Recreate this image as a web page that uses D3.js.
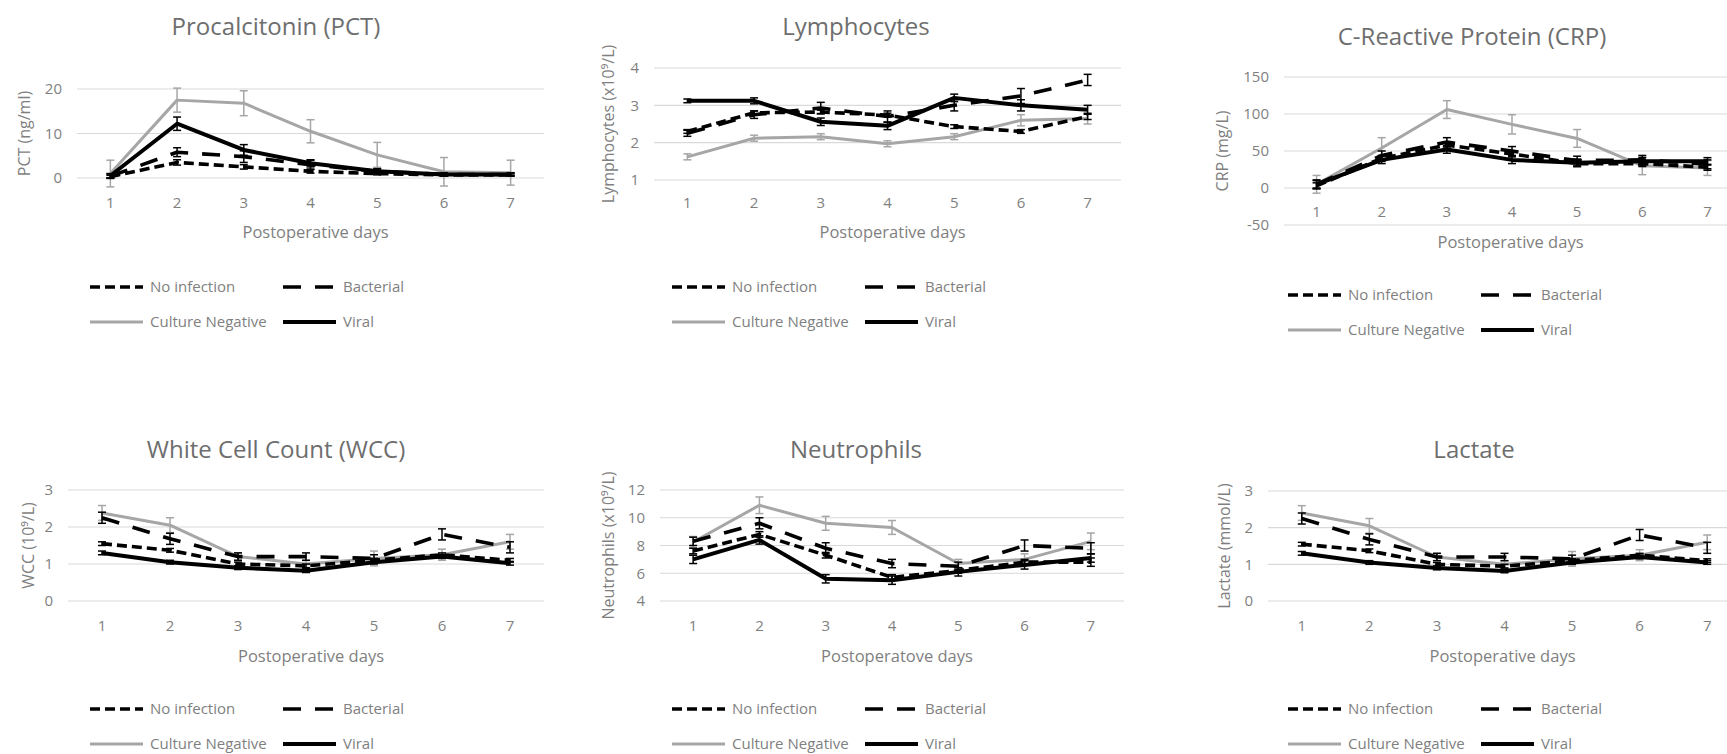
<!DOCTYPE html>
<html>
<head>
<meta charset="utf-8">
<script src="https://cdn.jsdelivr.net/npm/d3@7"></script>
<style>
  body { margin: 0; background: #fff; }
  text { font-family: "Open Sans", sans-serif; fill: #7f7f7f; }
</style>
</head>
<body>
<script>
let days = [1, 2, 3, 4, 5, 6, 7];
let seriesNames = ["No infection", "Bacterial", "Culture Negative", "Viral"];

// Procalcitonin
let pctNoInf = [0.3, 3.5, 2.5, 1.5, 1.0, 0.7, 0.7];
let pctBact = [0.4, 5.8, 4.8, 3.0, 1.5, 0.8, 0.8];
let pctCult = [1.0, 17.5, 16.8, 10.5, 5.2, 1.4, 1.2];
let pctViral = [0.5, 12.2, 6.3, 3.3, 1.5, 0.8, 0.8];
let pctNoInfErr = [0.3, 0.6, 0.5, 0.4, 0.3, 0.2, 0.2];
let pctBactErr = [0.5, 1.0, 1.3, 1.0, 0.6, 0.4, 0.4];
let pctCultErr = [3.0, 2.7, 2.8, 2.6, 2.8, 3.2, 2.8];
let pctViralErr = [0.5, 1.5, 1.2, 0.8, 0.5, 0.3, 0.3];

// Lymphocytes
let lymNoInf = [2.3, 2.8, 2.82, 2.74, 2.43, 2.3, 2.7];
let lymBact = [2.25, 2.75, 2.93, 2.7, 3.0, 3.25, 3.68];
let lymCult = [1.62, 2.12, 2.16, 1.97, 2.16, 2.6, 2.65];
let lymViral = [3.12, 3.12, 2.56, 2.45, 3.2, 3.0, 2.88];
let lymNoInfErr = [0.05, 0.05, 0.05, 0.05, 0.05, 0.05, 0.08];
let lymBactErr = [0.08, 0.1, 0.15, 0.15, 0.15, 0.2, 0.15];
let lymCultErr = [0.08, 0.08, 0.08, 0.08, 0.08, 0.15, 0.15];
let lymViralErr = [0.05, 0.08, 0.1, 0.1, 0.1, 0.15, 0.12];

// C-Reactive Protein
let crpNoInf = [3, 40, 58, 46, 33, 33, 28];
let crpBact = [5, 44, 62, 50, 37, 38, 32];
let crpCult = [5, 54, 106, 86, 67, 30, 27];
let crpViral = [5, 38, 52, 38, 34, 36, 36];
let crpNoInfErr = [4, 4, 4, 4, 4, 4, 4];
let crpBactErr = [6, 6, 6, 6, 6, 6, 6];
let crpCultErr = [12, 14, 12, 13, 12, 12, 10];
let crpViralErr = [5, 5, 5, 5, 5, 5, 5];

// White Cell Count
let wccNoInf = [1.55, 1.37, 1.0, 0.95, 1.1, 1.25, 1.1];
let wccBact = [2.25, 1.68, 1.2, 1.2, 1.15, 1.8, 1.45];
let wccCult = [2.38, 2.05, 1.2, 1.0, 1.15, 1.25, 1.6];
let wccViral = [1.3, 1.05, 0.9, 0.82, 1.05, 1.2, 1.02];
let wccNoInfErr = [0.05, 0.05, 0.05, 0.05, 0.05, 0.05, 0.05];
let wccBactErr = [0.15, 0.15, 0.1, 0.1, 0.1, 0.15, 0.15];
let wccCultErr = [0.2, 0.2, 0.1, 0.1, 0.2, 0.15, 0.2];
let wccViralErr = [0.05, 0.05, 0.05, 0.05, 0.05, 0.05, 0.05];

// Neutrophils
let neuNoInf = [7.6, 8.8, 7.3, 5.7, 6.2, 6.8, 6.8];
let neuBact = [8.3, 9.6, 7.8, 6.7, 6.5, 8.0, 7.8];
let neuCult = [8.25, 10.9, 9.6, 9.3, 6.7, 7.0, 8.3];
let neuViral = [7.0, 8.4, 5.6, 5.5, 6.1, 6.6, 7.1];
let neuNoInfErr = [0.2, 0.2, 0.2, 0.2, 0.2, 0.2, 0.3];
let neuBactErr = [0.3, 0.4, 0.4, 0.3, 0.3, 0.4, 0.4];
let neuCultErr = [0.4, 0.6, 0.5, 0.5, 0.3, 0.4, 0.6];
let neuViralErr = [0.3, 0.3, 0.3, 0.3, 0.3, 0.3, 0.3];

// Lactate
let lacNoInf = [1.55, 1.37, 1.0, 0.95, 1.1, 1.25, 1.1];
let lacBact = [2.25, 1.68, 1.2, 1.2, 1.15, 1.8, 1.45];
let lacCult = [2.4, 2.05, 1.2, 1.0, 1.15, 1.25, 1.6];
let lacViral = [1.3, 1.05, 0.9, 0.82, 1.05, 1.2, 1.05];
let lacNoInfErr = [0.05, 0.05, 0.05, 0.05, 0.05, 0.05, 0.05];
let lacBactErr = [0.15, 0.15, 0.1, 0.1, 0.1, 0.15, 0.15];
let lacCultErr = [0.2, 0.2, 0.1, 0.1, 0.2, 0.15, 0.2];
let lacViralErr = [0.05, 0.05, 0.05, 0.05, 0.05, 0.05, 0.05];

let styles = {
    "No infection": { color: "#000", width: 3.6, dash: "10,5" },
    "Bacterial": { color: "#000", width: 3.6, dash: "18,14" },
    "Culture Negative": { color: "#a6a6a6", width: 3, dash: null },
    "Viral": { color: "#000", width: 4, dash: null }
};
let drawOrder = ["Culture Negative", "No infection", "Bacterial", "Viral"];

let panels = [
    { title: "Procalcitonin (PCT)", ytitle: "PCT (ng/ml)", xtitle: "Postoperative days",
      vals: [pctNoInf, pctBact, pctCult, pctViral], errs: [pctNoInfErr, pctBactErr, pctCultErr, pctViralErr],
      domain: [0, 20], ticks: [0, 10, 20], left: 77, right: 544, top: 89, bottom: 178,
      titleX: 276, titleY: 35, yTitleX: 24, xLabelY: 208, xTitleY: 238, legX: 90, legY: 287 },
    { title: "Lymphocytes", ytitle: "Lymphocytes (x10⁹/L)", xtitle: "Postoperative days",
      vals: [lymNoInf, lymBact, lymCult, lymViral], errs: [lymNoInfErr, lymBactErr, lymCultErr, lymViralErr],
      domain: [1, 4], ticks: [1, 2, 3, 4], left: 654, right: 1121, top: 68, bottom: 180,
      titleX: 856, titleY: 35, yTitleX: 608, xLabelY: 208, xTitleY: 238, legX: 672, legY: 287 },
    { title: "C-Reactive Protein (CRP)", ytitle: "CRP (mg/L)", xtitle: "Postoperative days",
      vals: [crpNoInf, crpBact, crpCult, crpViral], errs: [crpNoInfErr, crpBactErr, crpCultErr, crpViralErr],
      domain: [-50, 150], ticks: [-50, 0, 50, 100, 150], left: 1284, right: 1740, top: 77, bottom: 225,
      titleX: 1472, titleY: 45, yTitleX: 1222, xLabelY: 217, xTitleY: 248, legX: 1288, legY: 295 },
    { title: "White Cell Count (WCC)", ytitle: "WCC (10⁹/L)", xtitle: "Postoperative days",
      vals: [wccNoInf, wccBact, wccCult, wccViral], errs: [wccNoInfErr, wccBactErr, wccCultErr, wccViralErr],
      domain: [0, 3], ticks: [0, 1, 2, 3], left: 68, right: 544, top: 490, bottom: 601,
      titleX: 276, titleY: 458, yTitleX: 28, xLabelY: 631, xTitleY: 662, legX: 90, legY: 709 },
    { title: "Neutrophils", ytitle: "Neutrophils (x10⁹/L)", xtitle: "Postoperatove days",
      vals: [neuNoInf, neuBact, neuCult, neuViral], errs: [neuNoInfErr, neuBactErr, neuCultErr, neuViralErr],
      domain: [4, 12], ticks: [4, 6, 8, 10, 12], left: 660, right: 1124, top: 490, bottom: 601,
      titleX: 856, titleY: 458, yTitleX: 608, xLabelY: 631, xTitleY: 662, legX: 672, legY: 709 },
    { title: "Lactate", ytitle: "Lactate (mmol/L)", xtitle: "Postoperative days",
      vals: [lacNoInf, lacBact, lacCult, lacViral], errs: [lacNoInfErr, lacBactErr, lacCultErr, lacViralErr],
      domain: [0, 3], ticks: [0, 1, 2, 3], left: 1268, right: 1741, top: 491, bottom: 601,
      titleX: 1474, titleY: 458, yTitleX: 1224, xLabelY: 631, xTitleY: 662, legX: 1288, legY: 709 }
];

let svg = d3.select("body").append("svg")
    .attr("width", 1727)
    .attr("height", 754);

function drawPanel(p) {
    let g = svg.append("g");
    let x = d3.scalePoint().domain(days).range([p.left, p.right]).padding(0.5);
    let y = d3.scaleLinear().domain(p.domain).range([p.bottom, p.top]);

    // gridlines
    g.selectAll(".grid").data(p.ticks).enter().append("line")
        .attr("x1", p.left).attr("x2", p.right)
        .attr("y1", d => y(d)).attr("y2", d => y(d))
        .attr("stroke", "#d9d9d9").attr("stroke-width", 1.2);

    // y tick labels
    g.selectAll(".ylab").data(p.ticks).enter().append("text")
        .attr("x", p.left - 15).attr("y", d => y(d))
        .attr("dy", "0.35em").attr("text-anchor", "end")
        .style("font-size", "15px").text(d => d);

    // x tick labels
    g.selectAll(".xlab").data(days).enter().append("text")
        .attr("x", d => x(d)).attr("y", p.xLabelY)
        .attr("text-anchor", "middle")
        .style("font-size", "15px").text(d => d);

    // titles
    g.append("text").attr("x", p.titleX).attr("y", p.titleY)
        .attr("text-anchor", "middle").style("font-size", "24px").style("fill", "#6e6e6e")
        .text(p.title);
    g.append("text").attr("x", (p.left + Math.min(p.right, 1727)) / 2 + 5).attr("y", p.xTitleY)
        .attr("text-anchor", "middle").style("font-size", "16.5px")
        .text(p.xtitle);
    g.append("text")
        .attr("transform", `translate(${p.yTitleX},${(p.top + p.bottom) / 2}) rotate(-90)`)
        .attr("text-anchor", "middle").attr("dy", "0.35em").style("font-size", "16px")
        .text(p.ytitle);

    let line = d3.line().x((d, i) => x(days[i])).y(d => y(d));

    drawOrder.forEach(function(name) {
        let k = seriesNames.indexOf(name);
        let st = styles[name];
        let vals = p.vals[k];
        let errs = p.errs[k];

        // error bars
        let eb = g.append("g").attr("stroke", st.color).attr("stroke-width", 1.5);
        vals.forEach(function(v, i) {
            let cx = x(days[i]);
            eb.append("line").attr("x1", cx).attr("x2", cx)
                .attr("y1", y(v - errs[i])).attr("y2", y(v + errs[i]));
            eb.append("line").attr("x1", cx - 4).attr("x2", cx + 4)
                .attr("y1", y(v - errs[i])).attr("y2", y(v - errs[i]));
            eb.append("line").attr("x1", cx - 4).attr("x2", cx + 4)
                .attr("y1", y(v + errs[i])).attr("y2", y(v + errs[i]));
        });

        g.append("path").datum(vals)
            .attr("d", line)
            .attr("fill", "none")
            .attr("stroke", st.color)
            .attr("stroke-width", st.width)
            .attr("stroke-dasharray", st.dash)
            .attr("stroke-linejoin", "round");
    });

    // legend: 2 x 2
    seriesNames.forEach(function(name, k) {
        let st = styles[name];
        let lx = p.legX + (k % 2) * 193;
        let ly = p.legY + Math.floor(k / 2) * 35;
        g.append("line")
            .attr("x1", lx).attr("x2", lx + 53)
            .attr("y1", ly).attr("y2", ly)
            .attr("stroke", st.color)
            .attr("stroke-width", st.width)
            .attr("stroke-dasharray", st.dash);
        g.append("text").attr("x", lx + 60).attr("y", ly)
            .attr("dy", "0.35em").style("font-size", "15px")
            .text(name);
    });
}

panels.forEach(drawPanel);
</script>
</body>
</html>
